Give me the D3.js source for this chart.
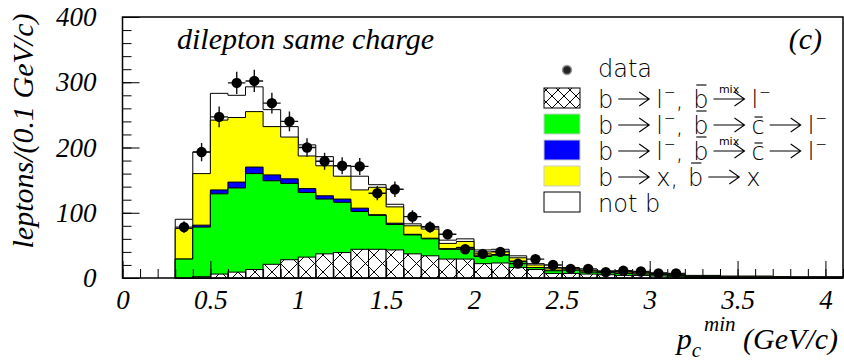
<!DOCTYPE html>
<html>
<head>
<meta charset="utf-8">
<script src="https://cdn.jsdelivr.net/npm/d3@7"></script>
<style>
body { margin: 0; background: #fff; }
svg { display: block; }
</style>
</head>
<body>
<svg id="chart"></svg>
<script>
// HISTOGRAM DATA (bin low edges, width 0.1 GeV/c)
var binLow = [0.3, 0.4, 0.5, 0.6, 0.7, 0.8, 0.9, 1.0, 1.1, 1.2, 1.3, 1.4, 1.5, 1.6, 1.7, 1.8, 1.9,
    2.0, 2.1, 2.2, 2.3, 2.4, 2.5, 2.6, 2.7, 2.8, 2.9, 3.0, 3.1, 3.2, 3.3, 3.4, 3.5, 3.6, 3.7, 3.8, 3.9, 4.0];
var binWidth = 0.1;

var hatchVals  = [0, 2, 6, 9, 13, 21, 28, 32, 37, 39, 44, 44, 43, 37, 34, 29, 29, 22, 23, 16, 13, 7, 7, 6, 5, 4, 4, 3, 2, 1, 1, 1, 0, 0, 0, 0, 0, 0];
var greenVals  = [29, 76, 123, 129, 147, 128, 117, 99, 84, 77, 58, 52, 39, 29, 26, 15, 17, 11, 12, 9, 3, 4, 5, 3, 3, 3, 2, 2, 2, 1, 1, 0, 1, 1, 1, 0, 1, 1];
var blueVals   = [0, 3, 6, 9, 10, 9, 7, 6, 5, 5, 5, 1, 2, 1, 1, 1, 1, 1, 1, 1, 0, 0, 0, 0, 0, 0, 0, 0, 0, 0, 0, 0, 0, 0, 0, 0, 0, 0];
var yellowVals = [47, 79, 107, 99, 85, 74, 64, 50, 46, 35, 28, 42, 25, 13, 14, 8, 9, 6, 5, 5, 4, 3, 3, 2, 2, 2, 2, 1, 1, 1, 1, 1, 1, 1, 1, 1, 0, 0];
var notbVals   = [14, 33, 41, 34, 38, 26, 16, 17, 14, 16, 21, 4, 4, 3, 4, 5, 4, 3, 3, 3, 2, 2, 1, 1, 1, 1, 1, 2, 1, 1, 1, 1, 1, 1, 0, 1, 1, 1];

// DATA POINTS
var dataX = [0.35, 0.45, 0.55, 0.65, 0.75, 0.85, 0.95, 1.05, 1.15, 1.25, 1.35, 1.45, 1.55, 1.65, 1.75,
    1.85, 1.95, 2.05, 2.15, 2.25, 2.35, 2.45, 2.55, 2.65, 2.75, 2.85, 2.95, 3.05, 3.15];
var dataY = [78, 193, 247, 299, 302, 268, 240, 200, 179, 172, 171, 130, 136, 94, 78,
    67, 44, 37, 40, 22, 29, 20, 14, 14, 9, 11, 10, 7, 7];
var dataErr = [9, 14, 16, 17, 17, 16, 15, 14, 13, 13, 13, 11, 12, 10, 9,
    8, 7, 6, 6, 5, 5, 4, 4, 4, 3, 3, 3, 3, 3];

// TICKS
var xTicks = [0, 0.5, 1, 1.5, 2, 2.5, 3, 3.5, 4];
var xTickLabels = ['0', '0.5', '1', '1.5', '2', '2.5', '3', '3.5', '4'];
var yTicks = [0, 100, 200, 300, 400];

// LEGEND
var layerKeys = ['hatch', 'green', 'blue', 'yellow', 'notb'];
var layerFill = {hatch: 'url(#xhatch)', green: '#00ff00', blue: '#0000ff', yellow: '#ffff00', notb: '#ffffff'};
var legendKeys = ['data', 'hatch', 'green', 'blue', 'yellow', 'notb'];
// tokens: '>' arrow, '>m' arrow with mix, '^x' superscript, '_x' overlined
var legendLabels = {
    data:   ['data'],
    hatch:  ['b', '>', 'l', '^\u2212', ',', '_b', '>m', 'l', '^\u2212'],
    green:  ['b', '>', 'l', '^\u2212', ',', '_b', '>', '_c', '>', 'l', '^\u2212'],
    blue:   ['b', '>', 'l', '^\u2212', ',', '_b', '>m', '_c', '>', 'l', '^\u2212'],
    yellow: ['b', '>', 'x', ',', '_b', '>', 'x'],
    notb:   ['not b']
};

//SVG SETUP
var W = 844, H = 364;
var svg = d3.select('#chart')
    .attr('width', W)
    .attr('height', H);

var defs = svg.append('defs');
function addHatch(id, s) {
    var p = defs.append('pattern')
        .attr('id', id)
        .attr('patternUnits', 'userSpaceOnUse')
        .attr('width', s)
        .attr('height', s);
    p.append('rect').attr('width', s).attr('height', s).attr('fill', '#fff');
    p.append('path')
        .attr('d', 'M0,0L' + s + ',' + s + 'M0,' + s + 'L' + s + ',0')
        .attr('stroke', '#000')
        .attr('stroke-width', 1);
}
addHatch('xhatch', 17);
addHatch('xhatchS', 12);

//SCALES
var x = d3.scaleLinear().domain([0, 4.1]).range([122.5, 843]);
var y = d3.scaleLinear().domain([0, 400]).range([278, 17]);

//STACK
var rows = binLow.map(function(lo, i) {
    return {lo: lo, hatch: hatchVals[i], green: greenVals[i], blue: blueVals[i],
        yellow: yellowVals[i], notb: notbVals[i]};
});
var stacked = d3.stack().keys(layerKeys)(rows);

function stepPath(layer) {
    var d = 'M' + x(layer[0].data.lo) + ',' + y(0);
    layer.forEach(function(b) {
        d += 'L' + x(b.data.lo) + ',' + y(b[1]) + 'L' + x(b.data.lo + binWidth) + ',' + y(b[1]);
    });
    var last = layer[layer.length - 1];
    d += 'L' + x(last.data.lo + binWidth) + ',' + y(0) + 'Z';
    return d;
}

var histG = svg.append('g');
// cumulative histograms, drawn from the total down
for (var k = layerKeys.length - 1; k >= 1; k--) {
    histG.append('path')
        .attr('d', stepPath(stacked[k]))
        .attr('fill', layerFill[layerKeys[k]])
        .attr('stroke', '#000')
        .attr('stroke-width', 1);
}
// hatched component, bin by bin
histG.selectAll('.hbin')
    .data(stacked[0])
    .enter()
    .append('rect')
    .attr('class', 'hbin')
    .attr('x', function(d) { return x(d.data.lo); })
    .attr('width', function(d) { return x(d.data.lo + binWidth) - x(d.data.lo); })
    .attr('y', function(d) { return y(d[1]); })
    .attr('height', function(d) { return y(0) - y(d[1]); })
    .attr('fill', 'url(#xhatch)')
    .attr('stroke', '#000')
    .attr('stroke-width', 1);

//FRAME
svg.append('rect')
    .attr('x', x(0))
    .attr('y', y(400))
    .attr('width', x(4.1) - x(0))
    .attr('height', y(0) - y(400))
    .attr('fill', 'none')
    .attr('stroke', '#000')
    .attr('stroke-width', 1.5);

//AXES
var serif = "'Liberation Serif', 'Times New Roman', serif";
var yMinor = svg.append('g')
    .attr('transform', 'translate(' + x(0) + ',0)')
    .call(d3.axisLeft(y).ticks(20).tickSize(-9).tickFormat(''));
var yAxis = svg.append('g')
    .attr('transform', 'translate(' + x(0) + ',0)')
    .call(d3.axisLeft(y).tickValues(yTicks).tickSize(-17).tickPadding(26));
var xMinor = svg.append('g')
    .attr('transform', 'translate(0,' + y(0) + ')')
    .call(d3.axisBottom(x).ticks(41).tickSize(-9).tickFormat(''));
var xAxis = svg.append('g')
    .attr('transform', 'translate(0,' + y(0) + ')')
    .call(d3.axisBottom(x).tickValues(xTicks).tickSize(-17).tickPadding(12)
        .tickFormat(function(d, i) { return xTickLabels[i]; }));

[yMinor, yAxis, xMinor, xAxis].forEach(function(a) {
    a.select('.domain').remove();
    a.selectAll('line').attr('stroke', '#000').attr('stroke-width', 1);
    a.selectAll('text')
        .attr('font-family', serif)
        .attr('font-style', 'italic')
        .attr('font-size', 27)
        .attr('fill', '#000');
});

//DATA POINTS
var dataG = svg.append('g');
dataX.forEach(function(dx, i) {
    dataG.append('path')
        .attr('d', 'M' + x(dx - binWidth / 2) + ',' + y(dataY[i]) + 'H' + x(dx + binWidth / 2) +
            'M' + x(dx) + ',' + y(dataY[i] - dataErr[i]) + 'V' + y(dataY[i] + dataErr[i]))
        .attr('stroke', '#111')
        .attr('stroke-width', 1.4)
        .attr('fill', 'none');
    dataG.append('circle')
        .attr('cx', x(dx))
        .attr('cy', y(dataY[i]))
        .attr('r', 5.2)
        .attr('fill', '#000');
});

//TEXTS
svg.append('text')
    .text('dilepton same charge')
    .attr('x', 177).attr('y', 49)
    .attr('font-family', serif).attr('font-style', 'italic').attr('font-size', 30);
svg.append('text')
    .text('(c)')
    .attr('x', 822).attr('y', 49)
    .attr('text-anchor', 'end')
    .attr('font-family', serif).attr('font-style', 'italic').attr('font-size', 30);
svg.append('text')
    .text('leptons/(0.1 GeV/c)')
    .attr('transform', 'translate(33,131) rotate(-90)')
    .attr('text-anchor', 'middle')
    .attr('font-family', serif).attr('font-style', 'italic').attr('font-size', 30);

var xt = svg.append('text')
    .attr('x', 838).attr('y', 349)
    .attr('text-anchor', 'end')
    .attr('font-family', serif).attr('font-style', 'italic').attr('font-size', 30);
xt.append('tspan').text('p');
xt.append('tspan').text('c').attr('font-size', 21).attr('dy', 8);
xt.append('tspan').text('min').attr('font-size', 21).attr('dy', -26).attr('dx', 3);
xt.append('tspan').text(' (GeV/c)').attr('dy', 18);

//LEGEND
var sans = "'DejaVu Sans', sans-serif";
var legendG = svg.append('g');
var legX = 544, boxW = 36, boxH = 20, textX = 598;
var rowBase = [77, 108, 134, 160, 186, 212];
var arrowLen = 31, fs = 24;
var barRise = {b: 23, c: 17};

function drawLabel(g, x0, base, tokens) {
    var cx = x0;
    function txt(s, size, yy) {
        var t = g.append('text')
            .text(s)
            .attr('x', cx).attr('y', yy)
            .attr('font-family', sans).attr('font-weight', 200)
            .attr('font-size', size).attr('fill', '#000');
        return t.node().getComputedTextLength();
    }
    tokens.forEach(function(tk) {
        if (tk === '>' || tk === '>m') {
            cx += 5;
            var ay = base - 9, ex = cx + arrowLen;
            g.append('path')
                .attr('d', 'M' + cx + ',' + ay + 'H' + ex + 'M' + (ex - 10) + ',' + (ay - 7) +
                    'L' + ex + ',' + ay + 'L' + (ex - 10) + ',' + (ay + 7))
                .attr('fill', 'none').attr('stroke', '#000').attr('stroke-width', 1.1);
            if (tk === '>m') {
                g.append('text')
                    .text('mix')
                    .attr('x', cx + arrowLen / 2).attr('y', ay - 6)
                    .attr('text-anchor', 'middle')
                    .attr('font-family', sans).attr('font-size', 11);
            }
            cx = ex + 7;
        } else if (tk[0] === '^') {
            cx += 1;
            cx += txt(tk.slice(1), 14, base - 11);
        } else if (tk[0] === '_') {
            var ch = tk.slice(1);
            var w = txt(ch, fs, base);
            g.append('line')
                .attr('x1', cx + 3).attr('x2', cx + w - 2)
                .attr('y1', base - barRise[ch]).attr('y2', base - barRise[ch])
                .attr('stroke', '#000').attr('stroke-width', 1.1);
            cx += w;
        } else if (tk === ',') {
            cx += txt(',', fs, base) + 10;
        } else {
            cx += txt(tk, fs, base);
        }
    });
}

legendKeys.forEach(function(key, i) {
    var base = rowBase[i];
    if (key === 'data') {
        legendG.append('circle')
            .attr('cx', 567).attr('cy', base - 7).attr('r', 4.5)
            .attr('fill', '#222').attr('stroke', '#999').attr('stroke-width', 1.5);
    } else {
        legendG.append('rect')
            .attr('x', legX).attr('y', base - boxH)
            .attr('width', boxW).attr('height', boxH)
            .attr('fill', key === 'hatch' ? 'url(#xhatchS)' : layerFill[key])
            .attr('stroke', key === 'hatch' || key === 'notb' ? '#000' : '#ccc')
            .attr('stroke-width', 1);
    }
    drawLabel(legendG, textX, base, legendLabels[key]);
});
</script>
</body>
</html>
